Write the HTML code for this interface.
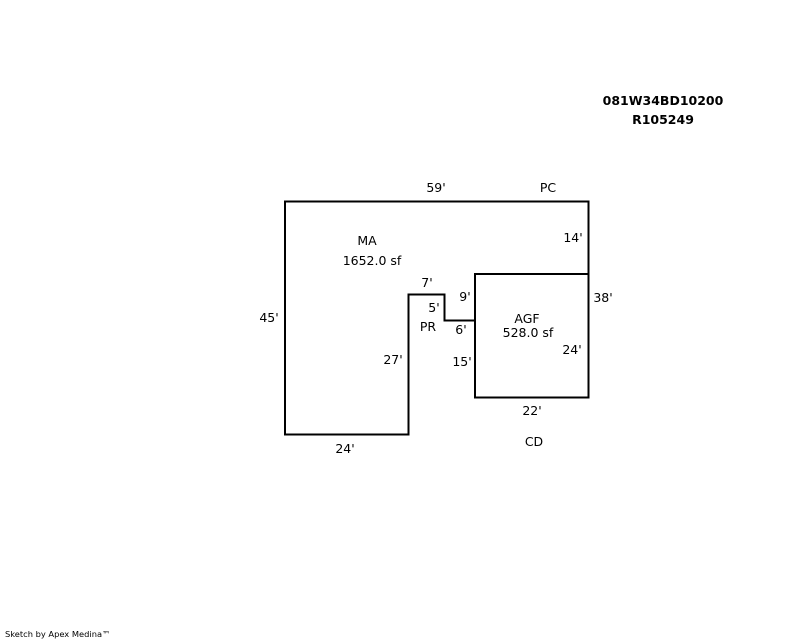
<!DOCTYPE html>
<html><head><style>html,body{margin:0;padding:0;background:#fff;}svg{display:block}</style></head>
<body>
<svg width="800" height="640" xmlns="http://www.w3.org/2000/svg" font-family="'DejaVu Sans','Liberation Sans',sans-serif" font-size="12.5" fill="#000">
<g fill="none" stroke="#000" stroke-width="2">
<polyline points="285,434 285,201.5 588.5,201.5 588.5,397.5 475,397.5 475,274 588.5,274"/>
<polyline points="475,320.5 444.5,320.5 444.5,294.5 408.5,294.5 408.5,434.5 284,434.5"/>
</g>
<g text-anchor="middle">
<text x="663" y="105" font-weight="bold" font-size="12.5">081W34BD10200</text>
<text x="663" y="124" font-weight="bold" font-size="12.5">R105249</text>
<text x="436" y="192">59'</text>
<text x="548" y="192">PC</text>
<text x="573" y="242">14'</text>
<text x="367" y="245">MA</text>
<text x="372" y="265">1652.0 sf</text>
<text x="603" y="302">38'</text>
<text x="269" y="322">45'</text>
<text x="427" y="287">7'</text>
<text x="465" y="301">9'</text>
<text x="434" y="312">5'</text>
<text x="428" y="331">PR</text>
<text x="461" y="334">6'</text>
<text x="527" y="323">AGF</text>
<text x="528" y="337">528.0 sf</text>
<text x="572" y="354">24'</text>
<text x="393" y="364">27'</text>
<text x="462" y="366">15'</text>
<text x="532" y="415">22'</text>
<text x="534" y="446">CD</text>
<text x="345" y="453">24'</text>
</g>
<text x="5" y="637" font-size="8.3">Sketch by Apex Medina™</text>
</svg>
</body></html>
